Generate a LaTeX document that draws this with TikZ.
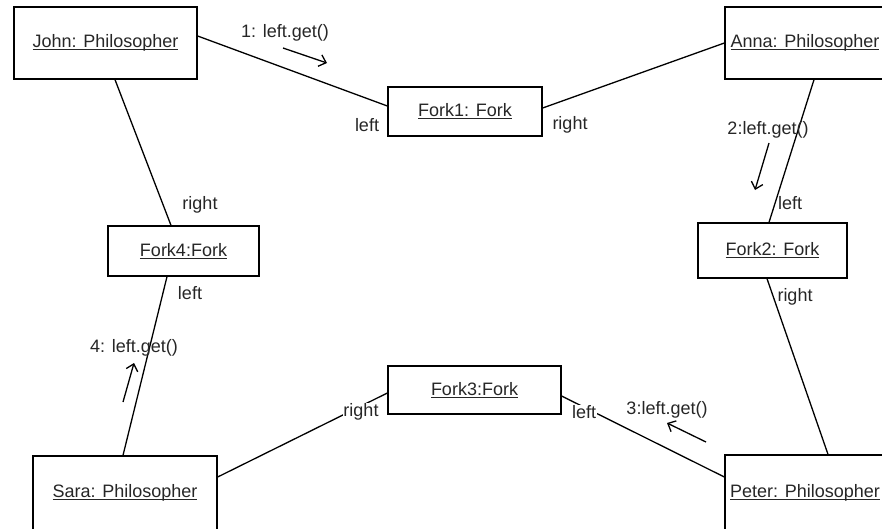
\documentclass[tikz,border=0pt]{standalone}
\usepackage{fontspec}
\setmainfont{Liberation Sans}
\usetikzlibrary{arrows.meta}
\newcommand\ulx[1]{\setbox0\hbox{#1}\rlap{\rule[-2.6pt]{\wd0}{0.9pt}}\box0}
\tikzset{
  obj/.style={draw=black, line width=1.3pt, rectangle, inner sep=0pt, text=black!85, font=\fontsize{18}{20}\selectfont},
  lbl/.style={inner sep=0pt, text=black!85, font=\fontsize{18}{20}\selectfont},
  link/.style={line width=1.3pt, draw=black},
  msg/.style={line width=1.3pt, draw=black, -{Straight Barb[length=6.5pt,width=12pt,line width=1.3pt]}}
}
\begin{document}
\begin{tikzpicture}[x=1pt,y=-1pt]
\useasboundingbox (0,0) rectangle (882,528);
\clip (0,0) rectangle (882,528);
% objects
\node[obj, minimum width=183pt, minimum height=72pt] (john) at (105.5,43) {\ulx{John: Philosopher}};
\node[obj, minimum width=160pt, minimum height=72pt] (anna) at (805,43) {\ulx{Anna: Philosopher}};
\node[obj, minimum width=160pt, minimum height=75pt] (peter) at (805,492.5) {\ulx{Peter: Philosopher}};
\node[obj, minimum width=184pt, minimum height=74pt] (sara) at (125,493) {\ulx{Sara: Philosopher}};
\node[obj, minimum width=154pt, minimum height=49pt] (fork1) at (465,111.5) {\ulx{Fork1: Fork}};
\node[obj, minimum width=149pt, minimum height=55pt] (fork2) at (772.5,250.5) {\ulx{Fork2: Fork}};
\node[obj, minimum width=173pt, minimum height=48pt] (fork3) at (474.5,390) {\ulx{Fork3:Fork}};
\node[obj, minimum width=151pt, minimum height=50pt] (fork4) at (183.5,251) {\ulx{Fork4:Fork}};
% links
\draw[link] ([yshift=7pt]john.east) -- ([yshift=5.5pt]fork1.west);
\draw[link] ([yshift=3.5pt]fork1.east) -- (anna.west);
\draw[link] ([xshift=9pt]anna.south) -- ([xshift=-3.5pt]fork2.north);
\draw[link] ([xshift=-5.5pt]fork2.south) -- ([xshift=23pt]peter.north);
\draw[link] ([yshift=15.5pt]peter.west) -- ([yshift=-6pt]fork3.east);
\draw[link] ([yshift=-3pt]fork3.west) -- ([yshift=16pt]sara.east);
\draw[link] ([xshift=-2pt]sara.north) -- ([xshift=-16.5pt]fork4.south);
\draw[link] ([xshift=-12.5pt]fork4.north) -- ([xshift=9.5pt]john.south);
% role labels
\node[lbl] (l1a) at (367,125) {left};
\node[lbl] (l1b) at (570,125) {right};
\node[lbl] (l4a) at (200,205) {right};
\node[lbl] (l4b) at (190,293) {left};
\node[lbl] (l2a) at (790,203) {left};
\node[lbl] (l2b) at (795,297) {right};
\node[lbl, fill=white, inner sep=0.5pt] (l3a) at (361,412) {right};
\node[lbl, fill=white, inner sep=0.5pt] (l3b) at (584,412) {left};
% messages
\node[lbl] (m1) at (285,33) {1: left.get()};
\node[lbl] (m2) at (768,130) {2:left.get()};
\node[lbl] (m3) at (667,410) {3:left.get()};
\node[lbl] (m4) at (134,348) {4: left.get()};
\coordinate (a1s) at (283,48); \coordinate (a1e) at (327,63);
\coordinate (a2s) at (769,143); \coordinate (a2e) at (755,190);
\coordinate (a3s) at (706,442); \coordinate (a3e) at (667,423);
\coordinate (a4s) at (123,402); \coordinate (a4e) at (134,363);
\draw[msg] (a1s) -- (a1e);
\draw[msg] (a2s) -- (a2e);
\draw[msg] (a3s) -- (a3e);
\draw[msg] (a4s) -- (a4e);
\end{tikzpicture}
\end{document}
